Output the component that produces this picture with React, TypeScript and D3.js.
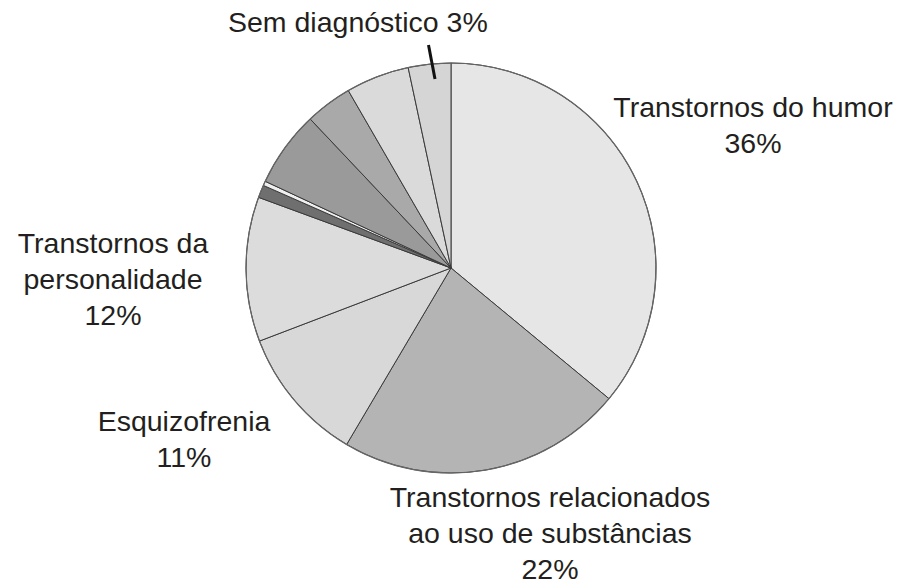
import React from 'react'
import * as d3 from 'd3'

// slices clockwise from 12 o'clock (percent of patients)
const categories = [
  'Transtornos do humor',
  'Transtornos relacionados ao uso de substâncias',
  'Esquizofrenia',
  'Transtornos da personalidade',
  'Outro 1',
  'Outro 2',
  'Outro 3',
  'Outro 4',
  'Outro 5',
  'Sem diagnóstico',
]
const values = [36, 22.5, 10.7, 11.4, 1.0, 0.35, 6.0, 3.7, 5.0, 3.35]
const fills = ['#e6e6e6', '#b4b4b4', '#d8d8d8', '#dcdcdc', '#6f6f6f', '#efefef', '#9a9a9a', '#a9a9a9', '#dadada', '#d5d5d5']

// label lines per labelled slice
const labelLines = [
  ['Transtornos do humor', '36%'],
  ['Transtornos relacionados', 'ao uso de substâncias', '22%'],
  ['Esquizofrenia', '11%'],
  ['Transtornos da', 'personalidade', '12%'],
]

const width = 905
const height = 583
const cx = 451
const cy = 268
const radius = 205
const fontSize = 28.5
const lineGap = 36.2

// x center / first baseline for each labelled slice
const labelPos = [
  { x: 753, y: 117 },
  { x: 550, y: 507 },
  { x: 184, y: 431 },
  { x: 113, y: 253 },
]

export default function App() {
  const pie = d3.pie<number>().sort(null).value(d => d)
  const arcs = pie(values)
  const arc = d3.arc<d3.PieArcDatum<number>>().innerRadius(0).outerRadius(radius)

  return (
    <svg width={width} height={height} style={{ position: 'absolute', left: 0, top: 0, background: '#fff' }}
      fontFamily="'Liberation Sans', Arial, sans-serif">
      <rect width={width} height={height} fill="#fff" />
      <g transform={`translate(${cx},${cy})`}>
        {arcs.map((a, i) => (
          <path key={categories[i]} d={arc(a) || ''} fill={fills[i]} stroke="#3a3a3a" strokeWidth={1} strokeLinejoin="round" />
        ))}
        <circle r={radius} fill="none" stroke="#666" strokeWidth={1.2} />
      </g>
      {labelLines.map((lines, i) => (
        <text key={i} x={labelPos[i].x} y={labelPos[i].y} textAnchor="middle" fontSize={fontSize} fill="#231f20">
          {lines.map((l, j) => (
            <tspan key={j} x={labelPos[i].x} y={labelPos[i].y + j * lineGap}>{l}</tspan>
          ))}
        </text>
      ))}
      <text x={228} y={32} fontSize={fontSize} fill="#231f20">Sem diagnóstico 3%</text>
      <line x1={428.5} y1={45} x2={435} y2={79} stroke="#111" strokeWidth={3} />
    </svg>
  )
}
